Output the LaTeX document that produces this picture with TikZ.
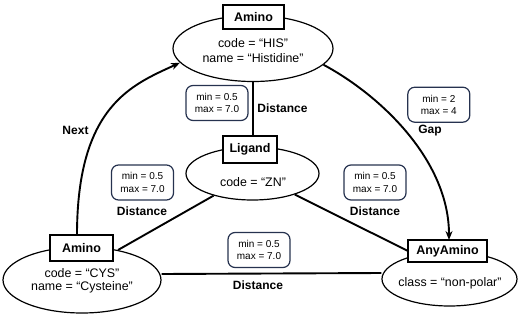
\documentclass[tikz,border=0pt]{standalone}
\usepackage{fontspec}
\setmainfont{Liberation Sans}
\usetikzlibrary{shapes.geometric,arrows.meta}
\definecolor{navy}{HTML}{26324F}
\begin{document}
\begin{tikzpicture}[x=1pt,y=-1pt,
  conn/.style={line width=1.9pt},
  ent/.style={draw,line width=1.2pt,ellipse,inner sep=0pt},
  title/.style={draw,line width=1.4pt,fill=white,font=\fontsize{12.5}{14}\selectfont\bfseries,inner sep=0pt},
  attr/.style={font=\fontsize{12.4}{14}\selectfont,inner sep=0pt},
  lbl/.style={draw=navy,line width=1.2pt,rounded corners=7pt,align=center,font=\fontsize{10}{12.5}\selectfont,minimum width=62pt,minimum height=35pt,inner sep=1pt},
  rel/.style={font=\fontsize{12}{13}\selectfont\bfseries,inner sep=0pt}]
\useasboundingbox (0,0) rectangle (520,316);
% entities
\node[ent,minimum width=160pt,minimum height=66pt] (topE) at (253,48.5) {};
\node[ent,minimum width=133pt,minimum height=53pt] (ligE) at (252.5,173.5) {};
\node[ent,minimum width=158pt,minimum height=66pt] (cysE) at (82,280) {};
\node[ent,minimum width=135pt,minimum height=54pt] (anyE) at (449.5,279) {};
\node[attr] (topC) at (253,43) {code = “HIS”};
\node[attr] (topN) at (253,58) {name = “Histidine”};
\node[attr] (ligC) at (253,182) {code = “ZN”};
\node[attr] (cysC) at (82,273) {code = “CYS”};
\node[attr] (cysN) at (82,287) {name = “Cysteine”};
\node[attr] (anyC) at (450,283) {class = “non-polar”};
% connectors
\draw[conn] (topE.south) -- (253,136) coordinate (ligTop);
\draw[conn,-{Stealth[length=9pt,width=7pt]}] (77,235) coordinate (nextStart) .. controls (77,105) and (133,84.5) .. (topE.191);
\draw[conn,-{Stealth[length=9pt,width=7pt]}] (topE.-13) .. controls (380,95) and (449,160) .. (449,240) coordinate (gapEnd);
\draw[conn] (118,250) coordinate (c1) -- (ligE);
\draw[conn] (ligE) -- (410,252) coordinate (c2);
\draw[conn] ([yshift=6pt]cysE.east) -- ([yshift=6pt]anyE.west);
% title boxes
\node[title,minimum width=61pt,minimum height=24pt] (topB) at (253.5,17) {Amino};
\node[title,minimum width=54pt,minimum height=27pt] (ligB) at (250,149.5) {Ligand};
\node[title,minimum width=63pt,minimum height=26pt] (cysB) at (81.5,248) {Amino};
\node[title,minimum width=79pt,minimum height=22pt] (anyB) at (447.5,251) {AnyAmino};
% labels
\node[lbl] (l1) at (217,103) {min = 0.5\\max = 7.0};
\node[lbl] (l2) at (142.5,182.5) {min = 0.5\\max = 7.0};
\node[lbl] (l3) at (438.8,104.7) {min = 2\\max = 4};
\node[lbl] (l4) at (375,182.5) {min = 0.5\\max = 7.0};
\node[lbl] (l5) at (259,250) {min = 0.5\\max = 7.0};
\node[rel] (r1) at (282.5,108) {Distance};
\node[rel] (r2) at (142,211) {Distance};
\node[rel] (r3) at (375,211) {Distance};
\node[rel] (r4) at (258,285) {Distance};
\node[rel] (r5) at (430,131) {Gap};
\node[rel] (r6) at (75.5,130) {Next};
\end{tikzpicture}
\end{document}
